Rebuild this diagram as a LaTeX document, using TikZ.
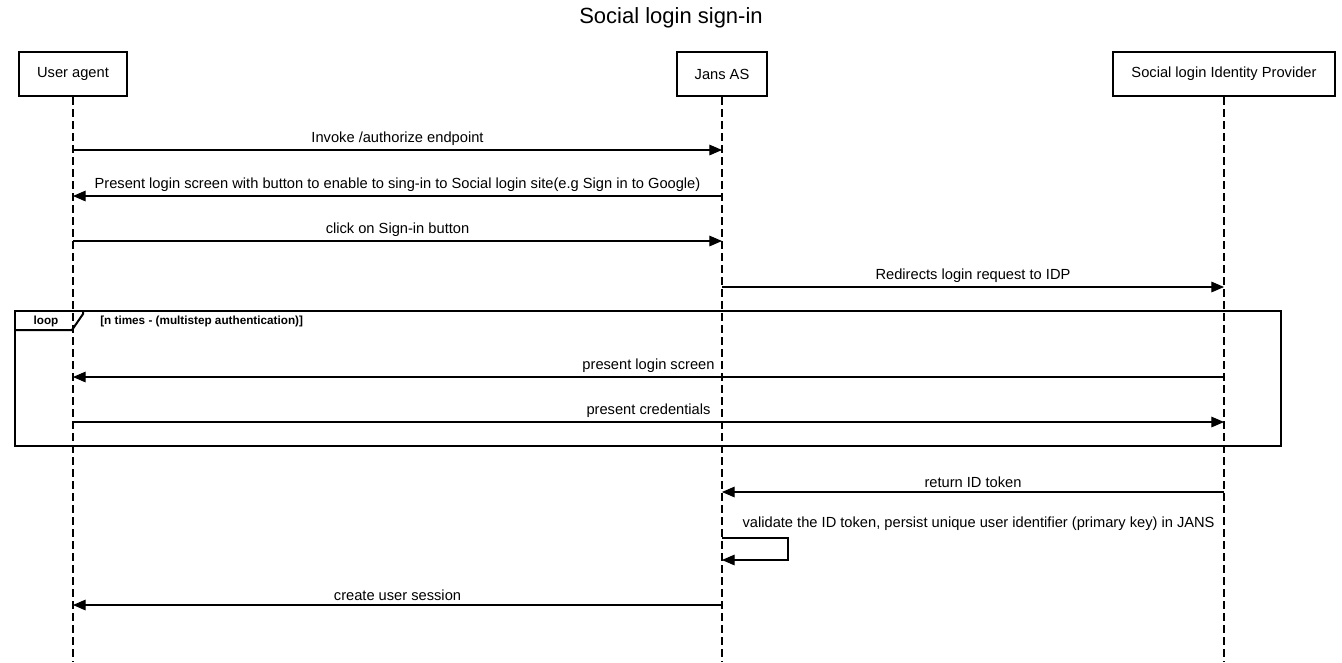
\documentclass[tikz,border=0pt]{standalone}
\usepackage{fontspec}
\setmainfont{Liberation Sans}
\usetikzlibrary{arrows.meta}

\begin{document}
\begin{tikzpicture}[x=0.75pt,y=-0.75pt,>={Triangle[length=9.5pt,width=8pt]},
	actor/.style={draw,line width=1.7pt,minimum height=33pt,inner sep=0pt,
		font=\fontsize{11}{13}\selectfont},
	lifeline/.style={line width=0.9pt,dash pattern=on 6pt off 3pt},
	msg/.style={->,line width=0.8pt},
	msglabel/.style={above=2pt,inner sep=1pt,font=\fontsize{11}{13}\selectfont},
	frame/.style={line width=1.5pt}]
\useasboundingbox (0,0) rectangle (1342,662);

\node (title) at (671,18) {\fontsize{16.5}{19}\selectfont Social login sign-in};

% participants
\node[actor,minimum width=81pt] (ua) at (73,74) {User agent};
\node[actor,minimum width=67.5pt] (as) at (722,74) {Jans AS};
\node[actor,minimum width=166.5pt] (idp) at (1224,74) {Social login Identity Provider};
\foreach \p in {ua,as,idp}{
	\coordinate (\p end) at (\p |- 0,662);
	\draw[lifeline] (\p.south) -- (\p end);
}

% messages
\foreach \y/\from/\to/\txt in {
	150/ua/as/{Invoke /authorize endpoint},
	196/as/ua/{Present login screen with button to enable to sing-in to Social login site(e.g Sign in to Google)},
	241/ua/as/{click on Sign-in button},
	287/as/idp/{Redirects login request to IDP},
	377/idp/ua/{present login screen},
	422/ua/idp/{present credentials},
	492/idp/as/{return ID token},
	605/as/ua/{create user session}}{
	\draw[msg] (\from |- 0,\y) -- (\to |- 0,\y) node[msglabel,midway] {\txt};
}

% loop frame
\draw[frame] (15,311) rectangle (1281,446);
\draw[frame] (15,330) -- (72,330) -- (83,314) -- (83,311);
\node (looplbl) at (46,321) {\fontsize{8.8}{10}\selectfont\bfseries loop};
\node[anchor=west,inner sep=0pt] (loopcond) at (100,321)
	{\fontsize{8.8}{10}\selectfont\bfseries [n times - (multistep authentication)]};

% self call
\draw[msg] (as |- 0,538) -- ++(66,0) -- ++(0,22) -- (as |- 0,560);
\node[anchor=south west,inner sep=1pt,font=\fontsize{11}{13}\selectfont] (selflbl) at (741,532)
	{validate the ID token, persist unique user identifier (primary key) in JANS};

\end{tikzpicture}
\end{document}
